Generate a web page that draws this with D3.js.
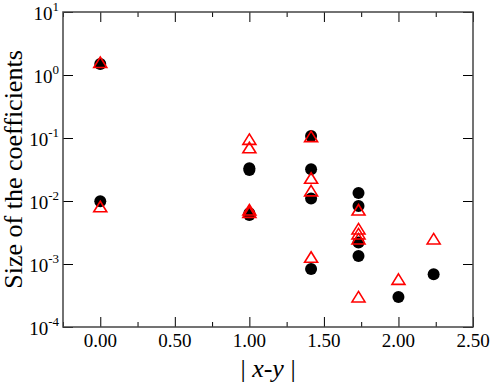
<!DOCTYPE html>
<html>
<head>
<meta charset="utf-8">
<script src="https://cdn.jsdelivr.net/npm/d3@7"></script>
<style>
  body { margin: 0; background: #fff; }
  svg { display: block; font-family: "Liberation Serif", "Times New Roman", serif; }
</style>
</head>
<body>
<div id="chart"></div>
<script>
// distances |x-y| and coefficient sizes
const circleX = [0, 0, 1, 1, 1, 1, 1.414, 1.414, 1.414, 1.414, 1.732, 1.732, 1.732, 1.732, 2, 2.236];
const circleY = [1.5, 0.0099, 0.033, 0.031, 0.0064, 0.006, 0.108, 0.032, 0.011, 0.00083, 0.0134, 0.0083, 0.0022, 0.00134, 0.0003, 0.00069];

const triX = [0, 0, 1, 1, 1, 1, 1.414, 1.414, 1.414, 1.414, 1.732, 1.732, 1.732, 1.732, 1.732, 2, 2.236];
const triY = [1.58, 0.0081, 0.095, 0.07, 0.0072, 0.0066, 0.105, 0.023, 0.0145, 0.00128, 0.0072, 0.0036, 0.003, 0.0025, 0.0003, 0.00057, 0.0025];

const xTicks = [0, 0.5, 1, 1.5, 2, 2.5];
const xMinor = [-0.25, 0.25, 0.75, 1.25, 1.75, 2.25];
const yExp = [-4, -3, -2, -1, 0, 1];

const W = 491, H = 383;
const box = {left: 63, right: 473, top: 12, bottom: 327};

const svg = d3.select("#chart").append("svg")
  .attr("width", W).attr("height", H);

const x = d3.scaleLinear().domain([-0.25, 2.5]).range([box.left, box.right]);
const y = d3.scaleLog().domain([1e-4, 10]).range([box.bottom, box.top]);

// ticks (all pointing inward)
function ticks(axisGen, tx, ty) {
  return svg.append("g")
    .attr("transform", `translate(${tx},${ty})`)
    .call(axisGen)
    .call(g => g.select(".domain").remove())
    .call(g => g.selectAll("line").attr("stroke", "#000"))
    .call(g => g.selectAll("text").remove());
}
ticks(d3.axisBottom(x).tickValues(xTicks).tickSize(-10), 0, box.bottom);
ticks(d3.axisBottom(x).tickValues(xMinor).tickSize(-5), 0, box.bottom);
ticks(d3.axisTop(x).tickValues(xTicks).tickSize(-10), 0, box.top);
ticks(d3.axisTop(x).tickValues(xMinor).tickSize(-5), 0, box.top);
const yVals = yExp.map(e => Math.pow(10, e));
ticks(d3.axisLeft(y).tickValues(yVals).tickSize(-10), box.left, 0);
ticks(d3.axisRight(y).tickValues(yVals).tickSize(-10), box.right, 0);

// frame
svg.append("rect")
  .attr("x", box.left).attr("y", box.top)
  .attr("width", box.right - box.left).attr("height", box.bottom - box.top)
  .attr("fill", "none").attr("stroke", "#444").attr("stroke-width", 1.5);

// x tick labels
svg.append("g").selectAll("text")
  .data(xTicks)
  .join("text")
  .attr("x", d => x(d))
  .attr("y", 347)
  .attr("text-anchor", "middle")
  .attr("font-size", 19)
  .text(d => d.toFixed(2));

// y tick labels 10^n
const yl = svg.append("g").selectAll("text")
  .data(yExp)
  .join("text")
  .attr("x", 59)
  .attr("y", d => y(Math.pow(10, d)) + 8)
  .attr("text-anchor", "end")
  .attr("font-size", 19);
yl.append("tspan").text("10");
yl.append("tspan").attr("font-size", 13).attr("dy", -9).text(d => d);

// axis titles
svg.append("text")
  .attr("transform", `translate(22,${(box.top + box.bottom) / 2}) rotate(-90)`)
  .attr("text-anchor", "middle")
  .attr("font-size", 26)
  .text("Size of the coefficients");

const xt = svg.append("text")
  .attr("x", (box.left + box.right) / 2)
  .attr("y", 377)
  .attr("text-anchor", "middle")
  .attr("font-size", 26);
xt.append("tspan").text("| ");
xt.append("tspan").attr("font-style", "italic").text("x-y");
xt.append("tspan").text(" |");

// markers
svg.append("g").selectAll("circle")
  .data(circleX.map((d, i) => [d, circleY[i]]))
  .join("circle")
  .attr("cx", d => x(d[0]))
  .attr("cy", d => y(d[1]))
  .attr("r", 6)
  .attr("fill", "#000");

const tri = "M0,-5.5L6.5,5L-6.5,5Z";
svg.append("g").selectAll("path")
  .data(triX.map((d, i) => [d, triY[i]]))
  .join("path")
  .attr("transform", d => `translate(${x(d[0])},${y(d[1])})`)
  .attr("d", tri)
  .attr("fill", "none")
  .attr("stroke", "#f00")
  .attr("stroke-width", 1.6);
</script>
</body>
</html>
